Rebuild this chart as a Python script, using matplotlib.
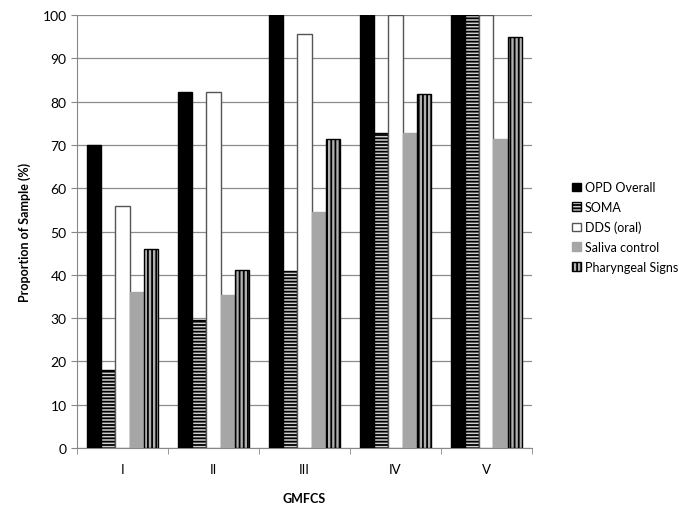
import numpy as np
import matplotlib
matplotlib.use("Agg")
import matplotlib.pyplot as plt

categories = ["I", "II", "III", "IV", "V"]
series = ["OPD Overall", "SOMA", "DDS (oral)", "Saliva control", "Pharyngeal Signs"]
opd_overall = [70, 82.2, 100, 100, 100]
soma = [18, 29.5, 40.9, 72.7, 100]
dds_oral = [56, 82.3, 95.5, 100, 100]
saliva_control = [36, 35.3, 54.5, 72.7, 71.4]
pharyngeal = [46, 41.2, 71.4, 81.8, 95]

plt.rcParams['font.family'] = ['Lato', 'DejaVu Sans']
plt.rcParams['hatch.linewidth'] = 1.3

styles = [
    dict(color="black", edgecolor="black", hatch=None),
    dict(color="#d0d0d0", edgecolor="black", hatch="-----"),
    dict(color="white", edgecolor="#555555", hatch=None),
    dict(color="#a6a6a6", edgecolor="#a6a6a6", hatch=None),
    dict(color="#b0b0b0", edgecolor="black", hatch="||||"),
]

fig = plt.figure(figsize=(6.79, 5.10), dpi=100)
ax = fig.add_axes([0.1134, 0.1196, 0.67, 0.849])

x = np.arange(len(categories))
w = 0.155
vals = [opd_overall, soma, dds_oral, saliva_control, pharyngeal]
for i, (name, v, st) in enumerate(zip(series, vals, styles)):
    ax.bar(x + (i - 2) * w, v, w, facecolor=st["color"], edgecolor=st["edgecolor"],
           hatch=st["hatch"], linewidth=1.0, label=name, zorder=3)

ax.set_xlim(-0.5, len(categories) - 0.5)
ax.set_ylim(0, 100)
ax.set_yticks(range(0, 101, 10))
ax.set_xticks(x)
ax.set_xticklabels(categories, fontsize=9.5)
ax.set_xticks(np.arange(-0.5, len(categories)), minor=True)
ax.tick_params(axis="x", which="major", length=0, pad=11)
ax.tick_params(axis="x", which="minor", length=4, color="#888888", direction="out")
ax.tick_params(axis="y", length=4, color="#888888", labelsize=10, direction="out")
ax.grid(axis="y", color="#8c8c8c", lw=0.9, zorder=0)
for s in ["top", "right"]:
    ax.spines[s].set_visible(False)
for s in ["left", "bottom"]:
    ax.spines[s].set_color("#888888")

ax.set_ylabel("Proportion of Sample (%)", fontsize=9, fontweight="bold", labelpad=8)
ax.set_xlabel("GMFCS", fontsize=9, fontweight="bold", labelpad=12)

ax.legend(loc="center left", bbox_to_anchor=(1.078, 0.51), frameon=False,
          fontsize=9, handlelength=0.7, handleheight=0.7, handletextpad=0.3,
          labelspacing=0.62, borderaxespad=0)

fig.savefig("out.png", dpi=100)
